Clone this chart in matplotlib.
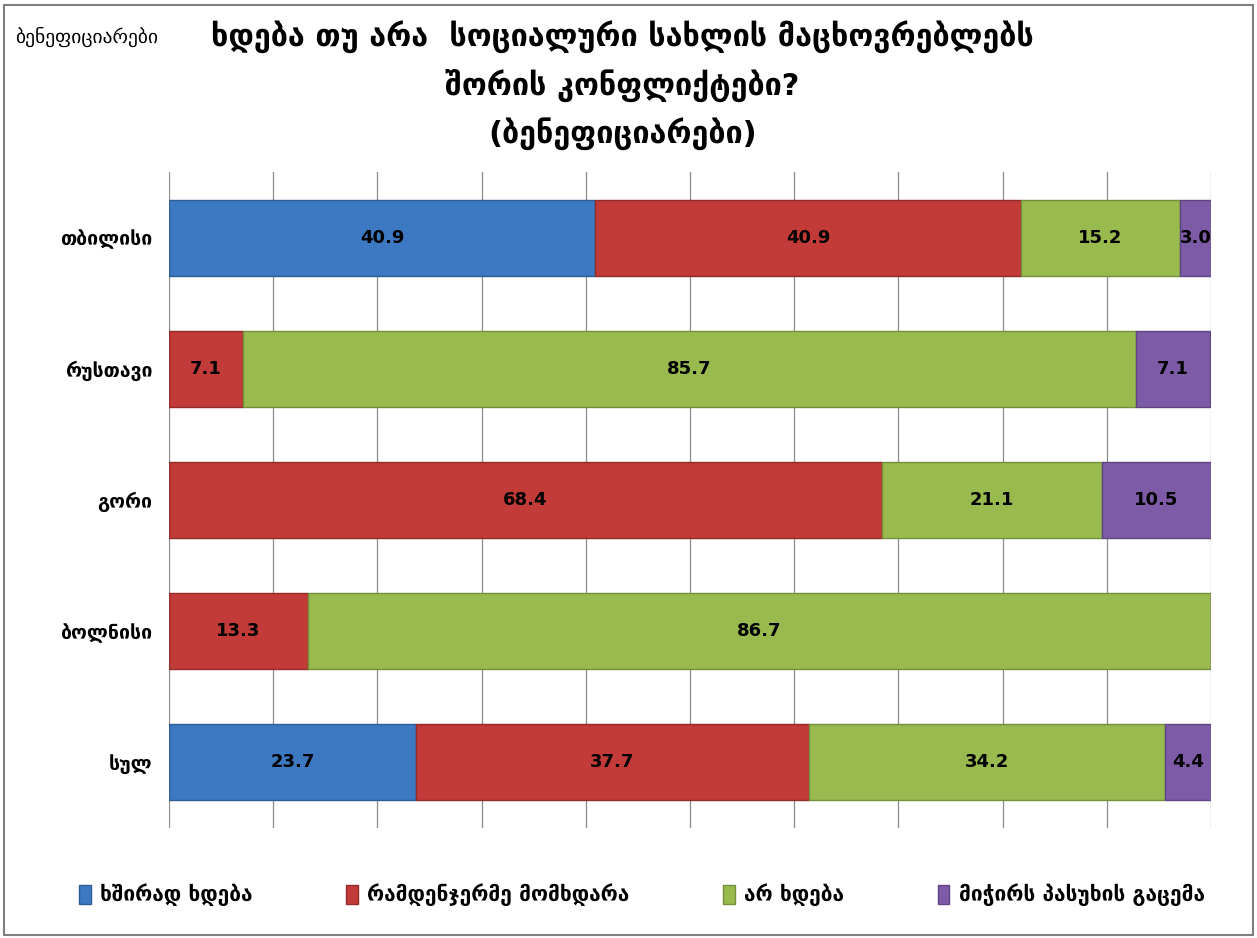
import numpy as np
import matplotlib.pyplot as plt
from matplotlib.patches import Rectangle

plt.rcParams['font.family'] = ['DejaVu Sans']

cities = ['თბილისი', 'რუსთავი', 'გორი', 'ბოლნისი', 'სულ']
series_names = ['ხშირად ხდება', 'რამდენჯერმე მომხდარა', 'არ ხდება', 'მიჭირს პასუხის გაცემა']
often = [40.9, 0.0, 0.0, 0.0, 23.7]
sometimes = [40.9, 7.1, 68.4, 13.3, 37.7]
never = [15.2, 85.7, 21.1, 86.7, 34.2]
no_answer = [3.0, 7.1, 10.5, 0.0, 4.4]

title = 'ხდება თუ არა  სოციალური სახლის მაცხოვრებლებს\nშორის კონფლიქტები?\n(ბენეფიციარები)'
corner_label = 'ბენეფიციარები'

colors = ['#3D78C2', '#C23B38', '#98BA4E', '#7D5BA6']
edges = ['#2E5C95', '#932B29', '#74903A', '#5E4480']

fig = plt.figure(figsize=(12.57, 9.38), dpi=100)
ax = fig.add_axes([169 / 1257, 1 - 828 / 938, (1211 - 169) / 1257, (828 - 172) / 938])

y = np.arange(len(cities))
left = np.zeros(len(cities))
for vals, name, c, ec in zip([often, sometimes, never, no_answer], series_names, colors, edges):
    vals = np.array(vals)
    bars = ax.barh(y, vals, left=left, height=0.58, color=c, edgecolor=ec,
                   linewidth=1.0, label=name, zorder=3)
    for b, v in zip(bars, vals):
        if v > 0:
            ax.text(b.get_x() + b.get_width() / 2, b.get_y() + b.get_height() / 2,
                    f'{v:.1f}', ha='center', va='center', fontsize=13,
                    fontweight='bold', color='black', zorder=5)
    left += vals

ax.set_xlim(0, 100)
ax.set_ylim(len(cities) - 0.5, -0.5)
ax.set_xticks(np.arange(0, 101, 10))
ax.set_xticklabels([])
ax.tick_params(axis='x', length=0)
ax.tick_params(axis='y', length=0, pad=12)
ax.set_yticks(y)
ax.set_yticklabels(cities, fontsize=14, fontweight='bold')
ax.grid(axis='x', color='#8C8C8C', linewidth=0.9, zorder=0)
for s in ax.spines.values():
    s.set_visible(False)

fig.text(0.495, 1 - 85 / 938, title, ha='center', va='center', fontsize=22,
         fontweight='bold', linespacing=1.6)
fig.text(15 / 1257, 1 - 37 / 938, corner_label, ha='left', va='center', fontsize=14)

ax.legend(loc='center', bbox_to_anchor=(0.5 - 48 / 1042, -67 / 656), ncol=4,
          frameon=False, prop={'weight': 'bold', 'size': 15},
          handlelength=0.55, handleheight=1.0, columnspacing=4.5, handletextpad=0.45)

fig.patches.append(Rectangle((0.003, 0.003), 0.994, 0.992, transform=fig.transFigure,
                             fill=False, edgecolor='#7F7F7F', linewidth=1.5))

fig.savefig('out.png', dpi=100)
